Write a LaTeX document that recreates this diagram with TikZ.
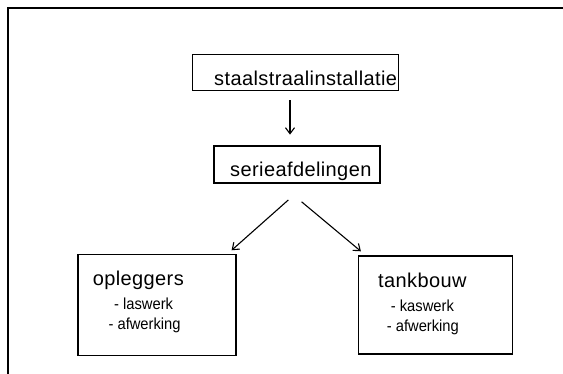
\documentclass[tikz,border=0pt]{standalone}
\usepackage{fontspec}
\setmainfont{Liberation Sans}
\newfontfamily\bigfont[LetterSpace=2]{Liberation Sans}
\usetikzlibrary{arrows.meta}
\begin{document}
\begin{tikzpicture}[x=1pt,y=-1pt,
  boxstyle/.style={draw,line width=1.4pt,inner sep=0pt},
  bigtext/.style={anchor=base west,inner sep=0pt,font=\bigfont\fontsize{20}{22}\selectfont},
  smalltext/.style={anchor=base west,inner sep=0pt,font=\fontsize{16}{18}\selectfont},
  arr/.style={line width=1.1pt,-{Straight Barb[length=6pt,width=9pt,line width=1.1pt]}}]
\useasboundingbox (0,0) rectangle (563,374);
% outer frame (cropped)
\draw[line width=1.5pt] (8,374) -- (8,8) -- (563,8);
% boxes
\node[boxstyle,minimum width=206pt,minimum height=36pt] (b1) at (295.5,72.5) {};
\node[boxstyle,minimum width=166pt,minimum height=37pt] (b2) at (297,164.5) {};
\node[boxstyle,minimum width=158pt,minimum height=101pt] (b3) at (157,305) {};
\node[boxstyle,minimum width=154pt,minimum height=98pt] (b4) at (435.2,305) {};
% texts
\node[bigtext] (t1) at (214,86) {staalstraalinstallatie};
\node[bigtext] (t2) at (230,177) {serieafdelingen};
\node[bigtext] (t3) at (92.6,285.5) {opleggers};
\node[smalltext] (t3a) at (114,309.5) {\scalebox{0.92}[1]{- laswerk}};
\node[smalltext] (t3b) at (108.4,330) {\scalebox{0.92}[1]{- afwerking}};
\node[bigtext] (t4) at (378,288) {tankbouw};
\node[smalltext] (t4a) at (390.7,311.7) {\scalebox{0.92}[1]{- kaswerk}};
\node[smalltext] (t4b) at (386.7,332) {\scalebox{0.92}[1]{- afwerking}};
% connector ends
\coordinate (a1s) at (290,100.5);
\coordinate (a1e) at (290,134.6);
\coordinate (a2s) at (288.3,200);
\coordinate (a2e) at (231.6,250.3);
\coordinate (a3s) at (301.6,201.8);
\coordinate (a3e) at (360.9,251.3);
\draw[arr] (a1s) -- (a1e);
\draw[arr] (a2s) -- (a2e);
\draw[arr] (a3s) -- (a3e);
\end{tikzpicture}
\end{document}
